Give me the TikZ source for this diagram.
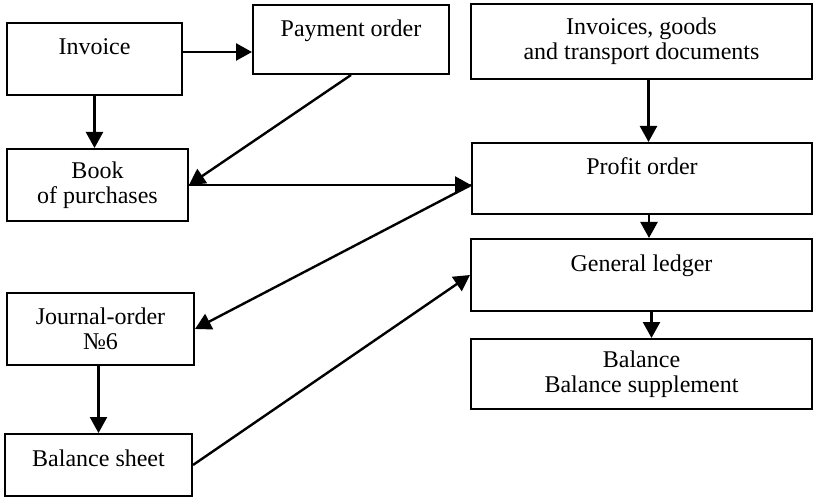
\documentclass[tikz,border=0pt]{standalone}
\usepackage{fontspec}
\setmainfont{Liberation Serif}
\usepackage{tikz}
\usetikzlibrary{arrows.meta, positioning, calc}

\begin{document}
\begin{tikzpicture}[
    x=0.5pt, y=-0.5pt,
    box/.style={rectangle, draw, line width=1pt, align=center, inner xsep=4pt, font=\fontsize{12}{12.5}\selectfont},
    onetext/.style={text height=8pt, text depth=#1, inner ysep=8pt},
    arrow/.style={-{Triangle[length=8pt, width=8.5pt]}, line width=1.2pt}
]
    \useasboundingbox (0,0) rectangle (813,497);

    % ============================================================
    % LEFT COLUMN
    % ============================================================
    \node[box, onetext=12pt, minimum width=87.5pt, minimum height=36pt] (invoice) at (94.5,59) {Invoice};
    \node[box, onetext=10.5pt, minimum width=98pt, minimum height=34.5pt] (payment) at (351,39.5) {Payment order};
    \node[box, minimum width=90.5pt, minimum height=36pt] (book) at (97.5,185) {Book\\of purchases};
    \node[box, minimum width=93.5pt, minimum height=36pt] (journal) at (100.5,329) {Journal-order\\№6};
    \node[box, onetext=7pt, minimum width=93.5pt, minimum height=31pt] (balsheet) at (98.5,465) {Balance sheet};

    % ============================================================
    % RIGHT COLUMN
    % ============================================================
    \node[box, minimum width=170.5pt, minimum height=37.5pt] (docs) at (641.5,41.5) {Invoices, goods\\and transport documents};
    \node[box, onetext=11.5pt, minimum width=170pt, minimum height=35.5pt] (profit) at (642,178.5) {Profit order};
    \node[box, onetext=12pt, minimum width=170.5pt, minimum height=36pt] (ledger) at (641.5,275) {General ledger};
    \node[box, minimum width=170.5pt, minimum height=35pt] (balance) at (641.5,374) {Balance\\Balance supplement};

    % Connections Left
    \draw[arrow] ([yshift=3.5pt]invoice.east) -- ([yshift=3.5pt]invoice.east -| payment.west);
    \draw[arrow] (invoice.south) -- (invoice.south |- book.north);
    \draw[arrow] (payment.south) -- (book.east);
    \draw[arrow] (book.east) -- (book.east -| profit.west);
    \draw[arrow] (book.east -| profit.west) -- (journal.east);
    \draw[arrow] ([xshift=-1pt]journal.south) -- ([xshift=-1pt]journal.south |- balsheet.north);
    \draw[arrow] (balsheet.east) -- (ledger.west);

    % Connections Right
    \draw[arrow] ([xshift=3.5pt]docs.south) -- ([xshift=3.5pt]docs.south |- profit.north);
    \draw[arrow] ([xshift=3.5pt]profit.south) -- ([xshift=3.5pt]profit.south |- ledger.north);
    \draw[arrow] ([xshift=5pt]ledger.south) -- ([xshift=5pt]ledger.south |- balance.north);

\end{tikzpicture}
\end{document}
